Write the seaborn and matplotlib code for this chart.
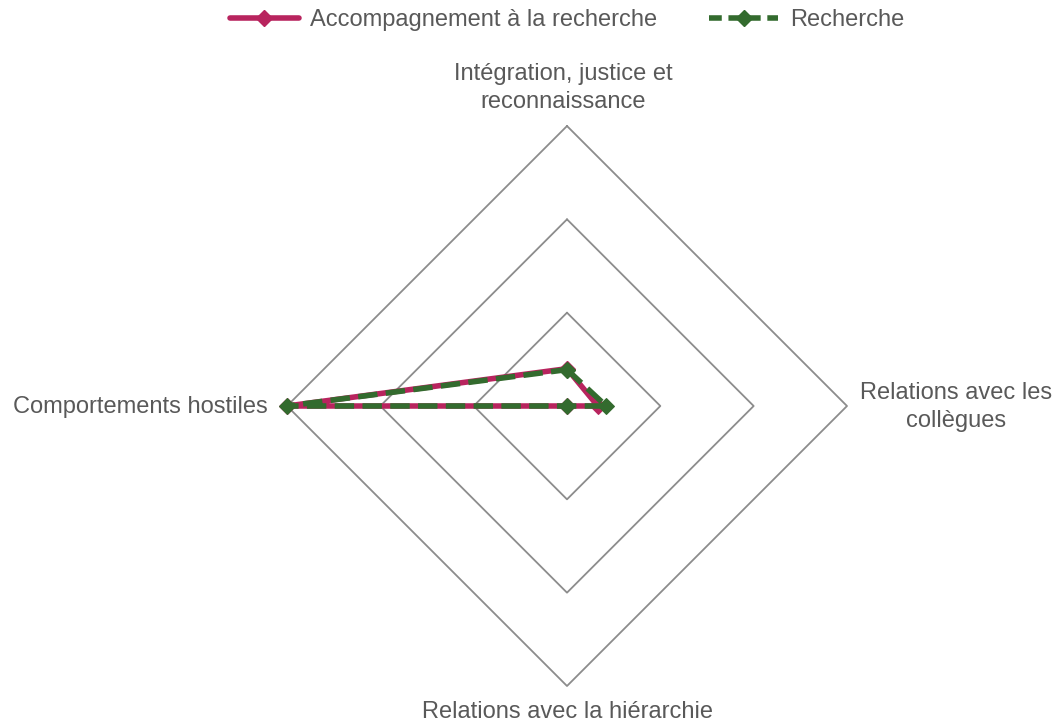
import numpy as np
import pandas as pd
import seaborn as sns
import matplotlib.pyplot as plt
from matplotlib.lines import Line2D

categories = ["Intégration, justice et\nreconnaissance", "Relations avec les\ncollègues",
              "Relations avec la hiérarchie", "Comportements hostiles"]
accompagnement = [0.40, 0.33, 0.0, 3.0]
recherche = [0.39, 0.42, 0.0, 3.0]
levels = [1, 2, 3]

sns.set_style("white")
plt.rcParams['font.family'] = ['Liberation Sans', 'DejaVu Sans']

theta = np.linspace(0, 2 * np.pi, len(categories) + 1)

rows = []
for name, vals in [("Accompagnement à la recherche", accompagnement), ("Recherche", recherche)]:
    for t, v in zip(theta, vals + vals[:1]):
        rows.append({"theta": t, "value": v, "serie": name})
df = pd.DataFrame(rows)

fig = plt.figure(figsize=(10.56, 7.22), dpi=100)
ax = fig.add_axes([287 / 1056, 36 / 722, 560 / 1056, 560 / 722], projection="polar")
ax.set_theta_offset(np.pi / 2)
ax.set_theta_direction(-1)
ax.set_ylim(0, 3)
ax.grid(False)
ax.spines["polar"].set_visible(False)
ax.set_xticks([])
ax.set_yticks([])
ax.patch.set_alpha(0)

# diamond grid
for lv in levels:
    ax.plot(theta, [lv] * len(theta), color="#8c8c8c", lw=1.3, zorder=1, clip_on=False)

pink = "#b8245e"
green = "#336b2e"
sns.lineplot(data=df[df.serie == "Accompagnement à la recherche"], x="theta", y="value",
             sort=False, ax=ax, color=pink, lw=4, marker="D", markersize=8,
             markeredgecolor=pink, zorder=3, legend=False, clip_on=False)
sns.lineplot(data=df[df.serie == "Recherche"], x="theta", y="value",
             sort=False, ax=ax, color=green, lw=4, marker="D", markersize=8,
             markeredgecolor=green, linestyle=(0, (3.5, 1.5)), zorder=4, legend=False,
             clip_on=False)
ax.set_xlabel("")
ax.set_ylabel("")

tc = "#595959"
fs = 17
fig.text(563 / 1056, 1 - 88 / 722, categories[0], ha="center", va="center", color=tc, fontsize=fs, linespacing=1.3)
fig.text(956 / 1056, 1 - 407 / 722, categories[1], ha="center", va="center", color=tc, fontsize=fs, linespacing=1.3)
fig.text(567 / 1056, 1 - 712 / 722, categories[2], ha="center", va="center", color=tc, fontsize=fs)
fig.text(268 / 1056, 1 - 407 / 722, categories[3], ha="right", va="center", color=tc, fontsize=fs)

handles = [Line2D([], [], color=pink, lw=4, marker="D", markersize=8),
           Line2D([], [], color=green, lw=4, marker="D", markersize=8, linestyle=(0, (2.3, 1.2)))]
leg = fig.legend(handles, ["Accompagnement à la recherche", "Recherche"], loc="center",
                 bbox_to_anchor=(567 / 1056, 1 - 20 / 722), ncol=2, frameon=False,
                 fontsize=fs, handlelength=2.9, columnspacing=2.2, handletextpad=0.5)
for t in leg.get_texts():
    t.set_color(tc)

fig.savefig("out.png", dpi=100)
